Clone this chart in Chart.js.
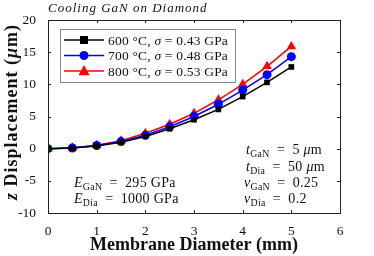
<!DOCTYPE html>
<html>
<head>
<meta charset="utf-8">
<script src="https://cdn.jsdelivr.net/npm/chart.js@4"></script>
<style>
  html, body { margin: 0; padding: 0; background: #fff; }
  #wrap { width: 374px; height: 256px; position: relative; }
</style>
</head>
<body>
<div id="wrap"><canvas id="chart"></canvas></div>
<script>
// Data
const diameters = [0, 0.5, 1, 1.5, 2, 2.5, 3, 3.5, 4, 4.5, 5];
const disp600 = [0, 0.1, 0.4, 1.0, 1.9, 3.1, 4.5, 6.1, 8.1, 10.3, 12.7];
const disp700 = [0, 0.1, 0.5, 1.1, 2.1, 3.4, 5.0, 6.9, 9.1, 11.5, 14.3];
const disp800 = [0, 0.15, 0.55, 1.25, 2.4, 3.8, 5.5, 7.6, 10.0, 12.8, 15.9];
const seriesTemps = ['600', '700', '800'];
const seriesStress = ['0.43', '0.48', '0.53'];
const xTicks = [0, 1, 2, 3, 4, 5, 6];
const yTicks = [-10, -5, 0, 5, 10, 15, 20];

const SERIF = '"Liberation Serif", "DejaVu Serif", serif';
const EQ = '\u2002=\u2002';

function toPoints(ys) {
  return diameters.map((x, i) => ({ x: x, y: ys[i] }));
}

// draw a run of text pieces: [text, style, sizeScale, dy]
function drawRuns(ctx, x, y, runs, size, spacing) {
  ctx.letterSpacing = (spacing || 0) + 'px';
  let cx = x;
  runs.forEach(r => {
    const sz = size * (r[2] || 1);
    ctx.font = (r[1] || '') + ' ' + sz + 'px ' + SERIF;
    ctx.fillText(r[0], cx, y + (r[3] || 0));
    cx += ctx.measureText(r[0]).width;
  });
  ctx.letterSpacing = '0px';
  return cx - x;
}

function measureRuns(ctx, runs, size, spacing) {
  ctx.letterSpacing = (spacing || 0) + 'px';
  let w = 0;
  runs.forEach(r => {
    ctx.font = (r[1] || '') + ' ' + size * (r[2] || 1) + 'px ' + SERIF;
    w += ctx.measureText(r[0]).width;
  });
  ctx.letterSpacing = '0px';
  return w;
}

const decorations = {
  id: 'decorations',
  afterDraw(chart) {
    const ctx = chart.ctx;
    const area = chart.chartArea;
    const xs = chart.scales.x;
    const ys = chart.scales.y;
    ctx.save();

    // box
    ctx.strokeStyle = '#222';
    ctx.lineWidth = 1;
    ctx.strokeRect(area.left + 0.5, area.top + 0.5, area.right - area.left, area.bottom - area.top);

    // inner ticks on all four sides
    ctx.beginPath();
    xTicks.forEach(v => {
      const px = Math.round(xs.getPixelForValue(v)) + 0.5;
      ctx.moveTo(px, area.bottom); ctx.lineTo(px, area.bottom - 3);
      ctx.moveTo(px, area.top); ctx.lineTo(px, area.top + 3);
    });
    yTicks.forEach(v => {
      const py = Math.round(ys.getPixelForValue(v)) + 0.5;
      ctx.moveTo(area.left, py); ctx.lineTo(area.left + 3, py);
      ctx.moveTo(area.right, py); ctx.lineTo(area.right - 3, py);
    });
    ctx.stroke();

    ctx.fillStyle = '#111';
    ctx.textBaseline = 'alphabetic';

    // title
    drawRuns(ctx, area.left, 12, [['Cooling GaN on Diamond', 'italic']], 13, 1);

    // axis titles
    const xRuns = [['Membrane Diameter (mm)', 'bold']];
    const xw = measureRuns(ctx, xRuns, 18);
    drawRuns(ctx, (area.left + area.right) / 2 - xw / 2, 250, xRuns, 18);

    const yRuns = [['z', 'italic bold'], [' Displacement (', 'bold'], ['μ', 'italic bold'], ['m)', 'bold']];
    const yw = measureRuns(ctx, yRuns, 18, 1);
    ctx.save();
    ctx.translate(17, 112);
    ctx.rotate(-Math.PI / 2);
    drawRuns(ctx, -yw / 2, 0, yRuns, 18, 1);
    ctx.restore();

    // annotations
    const fs = 14;
    const sp = 0.3;
    drawRuns(ctx, 246, 154, [['t', 'italic'], ['GaN', '', 0.7, 3], [EQ + '5 '], ['μ', 'italic'], ['m']], fs, sp);
    drawRuns(ctx, 246, 171, [['t', 'italic'], ['Dia', '', 0.7, 3], [EQ + '50 '], ['μ', 'italic'], ['m']], fs, sp);
    drawRuns(ctx, 244, 187, [['ν', 'italic'], ['GaN', '', 0.7, 3], [EQ + '0.25']], fs, sp);
    drawRuns(ctx, 244, 203, [['ν', 'italic'], ['Dia', '', 0.7, 3], [EQ + '0.2']], fs, sp);
    drawRuns(ctx, 74, 187, [['E', 'italic'], ['GaN', '', 0.7, 3], [EQ + '295 GPa']], fs, sp);
    drawRuns(ctx, 74, 203, [['E', 'italic'], ['Dia', '', 0.7, 3], [EQ + '1000 GPa']], fs, sp);

    // legend
    ctx.fillStyle = '#fff';
    ctx.fillRect(60, 29, 175, 53);
    ctx.strokeStyle = '#888';
    ctx.strokeRect(60.5, 29.5, 175, 53);
    chart.data.datasets.forEach((ds, i) => {
      const ly = 40 + i * 15.5;
      ctx.strokeStyle = ds.borderColor;
      ctx.lineWidth = 1.5;
      ctx.beginPath();
      ctx.moveTo(64, ly); ctx.lineTo(104, ly);
      ctx.stroke();
      ctx.fillStyle = ds.backgroundColor;
      const r = ds.pointRadius;
      ctx.beginPath();
      if (ds.pointStyle === 'rect') {
        ctx.rect(84 - r, ly - r, 2 * r, 2 * r);
      } else if (ds.pointStyle === 'circle') {
        ctx.arc(84, ly, r, 0, Math.PI * 2);
      } else {
        ctx.moveTo(84, ly - r * 1.1);
        ctx.lineTo(84 + r, ly + r * 0.75);
        ctx.lineTo(84 - r, ly + r * 0.75);
        ctx.closePath();
      }
      ctx.fill();
      ctx.fillStyle = '#111';
      drawRuns(ctx, 108, ly + 4.5, [[seriesTemps[i] + ' °C, '], ['σ', 'italic'], [' = ' + seriesStress[i] + ' GPa']], 13.5, 0.2);
    });

    ctx.restore();
  }
};

function makeSet(ys, color, style, radius) {
  return {
    data: toPoints(ys),
    borderColor: color,
    backgroundColor: color,
    borderWidth: 1.5,
    pointStyle: style,
    pointRadius: radius,
    pointBorderWidth: 0,
    pointHoverRadius: radius,
    tension: 0
  };
}

const ctx = document.getElementById('chart').getContext('2d');
new Chart(ctx, {
  type: 'line',
  data: {
    datasets: [
      makeSet(disp600, '#000000', 'rect', 4),
      makeSet(disp700, '#0000ff', 'circle', 4.5),
      makeSet(disp800, '#ff0000', 'triangle', 5.5)
    ]
  },
  options: {
    responsive: true,
    maintainAspectRatio: false,
    animation: false,
    events: [],
    layout: { padding: { top: 20, right: 34, left: 0, bottom: 0 } },
    plugins: {
      legend: { display: false },
      tooltip: { enabled: false }
    },
    scales: {
      x: {
        type: 'linear',
        min: 0,
        max: 6,
        afterFit: s => { s.height = 43; },
        afterBuildTicks: s => { s.ticks = xTicks.map(v => ({ value: v })); },
        grid: { display: false },
        border: { display: false },
        ticks: {
          color: '#111',
          padding: 2,
          maxRotation: 0,
          font: { family: SERIF, size: 13.5 }
        }
      },
      y: {
        type: 'linear',
        min: -10,
        max: 20,
        afterFit: s => { s.width = 48; },
        afterBuildTicks: s => { s.ticks = yTicks.map(v => ({ value: v })); },
        grid: { display: false },
        border: { display: false },
        ticks: {
          color: '#111',
          padding: 4,
          font: { family: SERIF, size: 13.5 }
        }
      }
    }
  },
  plugins: [decorations]
});
</script>
</body>
</html>
